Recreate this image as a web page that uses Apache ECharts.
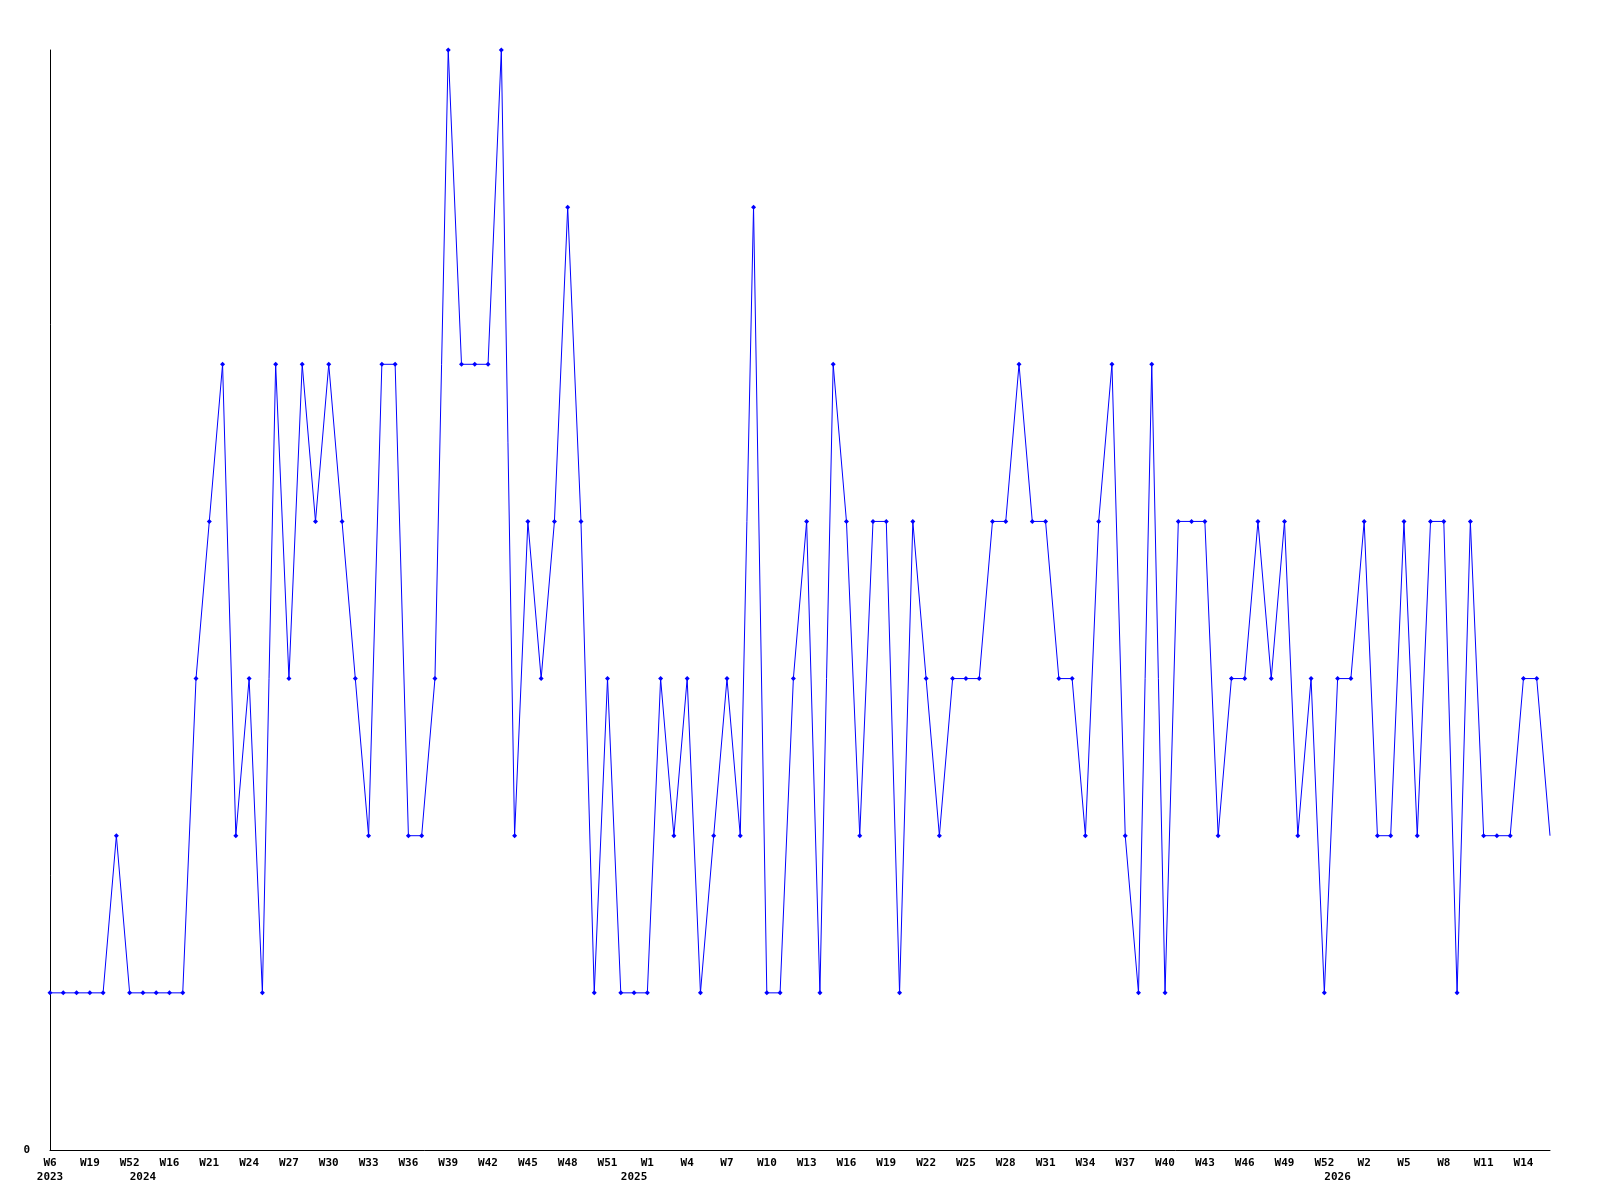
<!DOCTYPE html>
<html>
<head>
<meta charset="utf-8">
<script src="https://cdn.jsdelivr.net/npm/echarts@6/dist/echarts.min.js"></script>
<style>html,body{margin:0;padding:0;background:#fff}#c{width:1600px;height:1200px}</style>
</head>
<body>
<div id="c"></div>
<script>
const weeks = ["W6","W10","W15","W19","W30","W41","W52","W3","W9","W16","W18","W20",
"W21","W22","W23","W24","W25","W26","W27","W28","W29","W30","W31","W32","W33","W34","W35","W36","W37","W38","W39","W40","W41","W42","W43","W44","W45","W46","W47","W48","W49","W50","W51","W52","W53",
"W1","W2","W3","W4","W5","W6","W7","W8","W9","W10","W11","W12","W13","W14","W15","W16","W17","W18","W19","W20","W21","W22","W23","W24","W25","W26","W27","W28","W29","W30","W31","W32","W33","W34","W35","W36","W37","W38","W39","W40","W41","W42","W43","W44","W45","W46","W47","W48","W49","W50","W51","W52","W53",
"W1","W2","W3","W4","W5","W6","W7","W8","W9","W10","W11","W12","W13","W14","W15","W16"];
const years = {0:"2023",7:"2024",44:"2025",97:"2026"};
const values = [1,1,1,1,1,2,1,1,1,1,1,3,4,5,2,3,1,5,3,5,4,5,4,3,2,5,5,2,2,3,
7,5,5,5,7,2,4,3,4,6,4,1,3,1,1,1,3,2,3,1,2,3,2,6,1,1,3,4,1,5,
4,2,4,4,1,4,3,2,3,3,3,4,4,5,4,4,3,3,2,4,5,2,1,5,1,4,4,4,2,3,
3,4,3,4,2,3,1,3,3,4,2,2,4,2,4,4,1,4,2,2,2,3,3,2];
const yearLabels = weeks.map((w,i)=>years[i]||"");
const font = {fontFamily:"DejaVu Sans Mono", fontWeight:"bold", fontSize:11, color:"#000"};
const seriesData = values.map((v,i)=> i===values.length-1 ? {value:v, symbol:"none"} : v);
const chart = echarts.init(document.getElementById('c'), null, {renderer:'canvas'});
chart.setOption({
  animation:false,
  backgroundColor:"#fff",
  grid:{left:50,right:50,top:50,bottom:50,containLabel:false},
  xAxis:[{
    type:"category", data:weeks, boundaryGap:false,
    axisLine:{lineStyle:{color:"#000",width:1}},
    axisTick:{show:false},
    axisLabel:Object.assign({interval:(i)=>i%3===0, margin:8},font),
    splitLine:{show:false}
  },{
    type:"category", data:yearLabels, boundaryGap:false, position:"bottom", offset:14,
    axisLine:{show:false}, axisTick:{show:false},
    axisLabel:Object.assign({interval:0, margin:8},font),
    splitLine:{show:false}
  }],
  yAxis:{
    type:"value", min:0, max:7, interval:1,
    axisLine:{show:true,lineStyle:{color:"#000",width:1}},
    axisTick:{show:false},
    splitLine:{show:false},
    axisLabel:Object.assign({margin:20, formatter:(v)=> v===0 ? "0" : ""},font)
  },
  series:[{
    type:"line", data:seriesData, xAxisIndex:0,
    symbol:"diamond", symbolSize:5, showSymbol:true,
    lineStyle:{color:"#0000ff",width:1},
    itemStyle:{color:"#0000ff"}
  }]
});
</script>
</body>
</html>
